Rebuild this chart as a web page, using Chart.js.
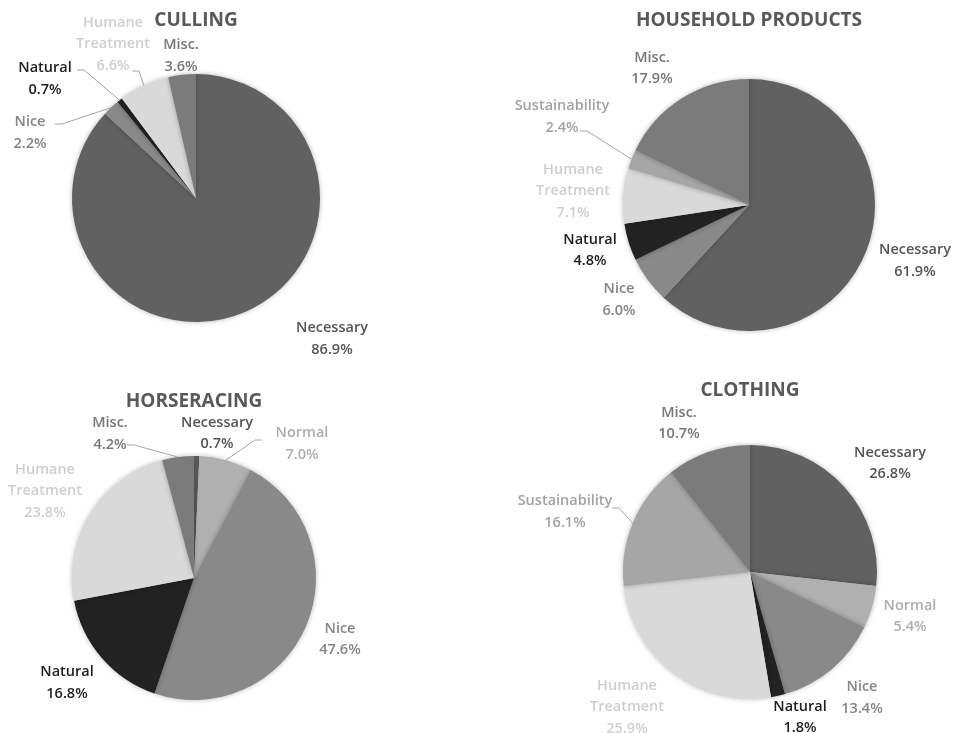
<!DOCTYPE html>
<html>
<head>
<meta charset="utf-8">
<script src="https://cdn.jsdelivr.net/npm/chart.js@4.4.1/dist/chart.umd.min.js"></script>
<style>
  body { margin: 0; background: #fff; }
  .cell { position: absolute; width: 477px; height: 367px; }
</style>
</head>
<body>
<div class="cell" style="left:0;top:0"><canvas id="culling" width="477" height="366"></canvas></div>
<div class="cell" style="left:477px;top:0"><canvas id="household" width="477" height="366"></canvas></div>
<div class="cell" style="left:0;top:366px"><canvas id="horseracing" width="477" height="367"></canvas></div>
<div class="cell" style="left:477px;top:366px"><canvas id="clothing" width="477" height="367"></canvas></div>
<script>
// data (percent)
const cullingLabels = ["Necessary", "Nice", "Natural", "Humane Treatment", "Misc."];
const cullingValues = [86.9, 2.2, 0.7, 6.6, 3.6];

const householdLabels = ["Necessary", "Nice", "Natural", "Humane Treatment", "Sustainability", "Misc."];
const householdValues = [61.9, 6.0, 4.8, 7.1, 2.4, 17.9];

const horseracingLabels = ["Necessary", "Normal", "Nice", "Natural", "Humane Treatment", "Misc."];
const horseracingValues = [0.7, 7.0, 47.6, 16.8, 23.8, 4.2];

const clothingLabels = ["Necessary", "Normal", "Nice", "Natural", "Humane Treatment", "Sustainability", "Misc."];
const clothingValues = [26.8, 5.4, 13.4, 1.8, 25.9, 16.1, 10.7];

// styles
const sliceColors = {
  "Necessary": "#616161",
  "Normal": "#b0b0b0",
  "Nice": "#898989",
  "Natural": "#222222",
  "Humane Treatment": "#d9d9d9",
  "Sustainability": "#a6a6a6",
  "Misc.": "#7b7b7b",
};
const labelColors = {
  "Necessary": "#555555",
  "Normal": "#adadad",
  "Nice": "#858585",
  "Natural": "#1e1e1e",
  "Humane Treatment": "#cfcfcf",
  "Sustainability": "#a2a2a2",
  "Misc.": "#777777",
};
const FONT = "'Open Sans', sans-serif";
const LINE_H = 21.5;

// label placement relative to pie centre; line = leader start point
const cullingPlace = [
  { dx: 136, dy: 141 },
  { dx: -166, dy: -65, line: [-141, -74] },
  { dx: -151, dy: -119, line: [-119, -128] },
  { dx: -83, dy: -154, line: [-64, -127] },
  { dx: -15, dy: -142 },
];
const householdPlace = [
  { dx: 166, dy: 56 },
  { dx: -130, dy: 95 },
  { dx: -159, dy: 45.5 },
  { dx: -176, dy: -14 },
  { dx: -187, dy: -88, line: [-169, -74] },
  { dx: -97, dy: -136.5 },
];
const horseracingPlace = [
  { dx: 23, dy: -144.5 },
  { dx: 108, dy: -134, line: [68, -138] },
  { dx: 146, dy: 61.5 },
  { dx: -127, dy: 105 },
  { dx: -149, dy: -87 },
  { dx: -84, dy: -144, line: [-67, -133] },
];
const clothingPlace = [
  { dx: 140, dy: -108.5 },
  { dx: 160, dy: 44.5 },
  { dx: 112, dy: 126 },
  { dx: 50, dy: 145.5 },
  { dx: -123, dy: 135 },
  { dx: -185, dy: -60, line: [-138, -64] },
  { dx: -71, dy: -148.5 },
];

const pieShadow = {
  id: "pieShadow",
  beforeDatasetsDraw(chart) {
    const ctx = chart.ctx;
    ctx.save();
    ctx.shadowColor = "rgba(0,0,0,0.28)";
    ctx.shadowBlur = 5;
  },
  afterDatasetsDraw(chart) {
    chart.ctx.restore();
  },
};

const pieLabels = {
  id: "pieLabels",
  afterDraw(chart, args, opts) {
    const ctx = chart.ctx;
    const arcs = chart.getDatasetMeta(0).data;
    const labels = chart.data.labels;
    const values = chart.data.datasets[0].data;
    ctx.save();
    ctx.textAlign = "center";
    ctx.textBaseline = "middle";

    ctx.font = "bold 19px " + FONT;
    ctx.fillStyle = "#595959";
    ctx.fillText(opts.title, arcs[0].x, opts.titleY);

    ctx.font = "600 14.5px " + FONT;
    arcs.forEach((arc, i) => {
      const p = opts.place[i];
      const cx = arc.x, cy = arc.y;
      const name = labels[i];
      const lines = name === "Humane Treatment" ? ["Humane", "Treatment"] : [name];
      lines.push(values[i].toFixed(1) + "%");
      const x = cx + p.dx;
      const top = cy + p.dy - ((lines.length - 1) * LINE_H) / 2;
      ctx.fillStyle = labelColors[name];
      lines.forEach((t, k) => ctx.fillText(t, x, top + k * LINE_H));

      if (p.line) {
        const mid = (arc.startAngle + arc.endAngle) / 2;
        const ex = cx + Math.cos(mid) * arc.outerRadius;
        const ey = cy + Math.sin(mid) * arc.outerRadius;
        const sx = cx + p.line[0], sy = cy + p.line[1];
        const dir = ex > sx ? 1 : -1;
        ctx.strokeStyle = "#a6a6a6";
        ctx.lineWidth = 1;
        ctx.beginPath();
        ctx.moveTo(sx, sy);
        ctx.lineTo(sx + dir * 7, sy);
        ctx.lineTo(ex, ey);
        ctx.stroke();
      }
    });
    ctx.restore();
  },
};

function makePie(id, title, labels, values, place, geo) {
  const canvas = document.getElementById(id);
  const W = canvas.width, H = canvas.height;
  new Chart(canvas, {
    type: "pie",
    data: {
      labels,
      datasets: [
        {
          data: values,
          backgroundColor: labels.map((l) => sliceColors[l]),
          borderWidth: 0,
        },
      ],
    },
    options: {
      responsive: false,
      animation: false,
      layout: {
        padding: {
          left: geo.cx - geo.r,
          right: W - geo.cx - geo.r,
          top: geo.cy - geo.r,
          bottom: H - geo.cy - geo.r,
        },
      },
      plugins: {
        legend: { display: false },
        tooltip: { enabled: false },
        pieLabels: { title, titleY: geo.titleY, place },
      },
    },
    plugins: [pieShadow, pieLabels],
  });
}

makePie("culling", "CULLING", cullingLabels, cullingValues, cullingPlace,
  { cx: 196, cy: 198, r: 124, titleY: 21 });
makePie("household", "HOUSEHOLD PRODUCTS", householdLabels, householdValues, householdPlace,
  { cx: 272, cy: 205, r: 126, titleY: 21 });
makePie("horseracing", "HORSERACING", horseracingLabels, horseracingValues, horseracingPlace,
  { cx: 194, cy: 212, r: 122, titleY: 36 });
makePie("clothing", "CLOTHING", clothingLabels, clothingValues, clothingPlace,
  { cx: 273, cy: 206, r: 127, titleY: 25 });
</script>
</body>
</html>
